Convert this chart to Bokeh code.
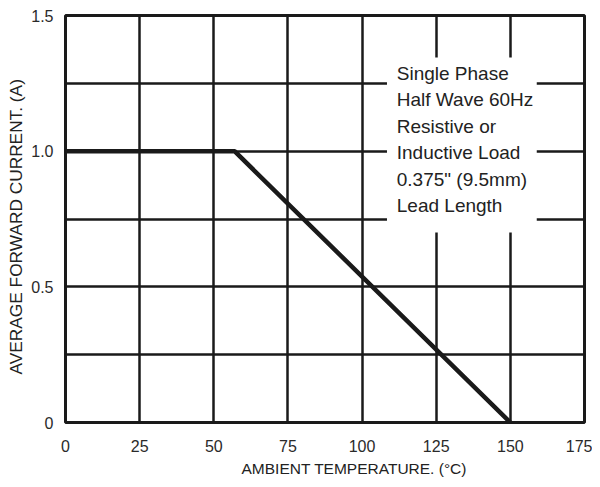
from bokeh.plotting import figure
from bokeh.models import Range1d, FixedTicker, Label, Title
from bokeh.embed import file_html
from bokeh.resources import INLINE

# ---- data ----
temp_c = [0, 57, 150]
current_a = [1.0, 1.0, 0.0]
x_ticks = [0, 25, 50, 75, 100, 125, 150, 175]
y_ticks = [0, 0.5, 1.0, 1.5]
y_tick_labels = ["0", "0.5", "1.0", "1.5"]
y_grid = [0, 0.25, 0.5, 0.75, 1.0, 1.25, 1.5]
note_lines = ["Single Phase", "Half Wave 60Hz", "Resistive or",
              "Inductive Load", "0.375\" (9.5mm)", "Lead Length"]
x_title = "AMBIENT TEMPERATURE. (°C)"
y_title = "AVERAGE FORWARD CURRENT. (A)"

FONT = "Liberation Sans"
INK = "#1a1a1a"

p = figure(width=592, height=479, output_backend="svg", toolbar_location=None,
           x_range=Range1d(0, 175), y_range=Range1d(0, 1.5),
           min_border_left=62, min_border_right=8, min_border_top=15,
           min_border_bottom=56)
p.background_fill_color = "white"
p.border_fill_color = "white"
p.outline_line_color = INK
p.outline_line_width = 3

# axes
p.xaxis.ticker = FixedTicker(ticks=x_ticks)
p.yaxis.ticker = FixedTicker(ticks=y_ticks)
p.yaxis.major_label_overrides = {t: s for t, s in zip(y_ticks, y_tick_labels)}
for ax in (p.xaxis, p.yaxis):
    ax.axis_line_color = None
    ax.major_tick_line_color = None
    ax.minor_tick_line_color = None
    ax.major_label_text_font = FONT
    ax.major_label_text_font_size = "16px"
    ax.major_label_text_color = "#2a2a2a"
p.xaxis.major_label_standoff = 11
p.yaxis.major_label_standoff = 6

# grid
p.xgrid.ticker = FixedTicker(ticks=x_ticks)
p.ygrid.ticker = FixedTicker(ticks=y_grid)
for g in (p.xgrid, p.ygrid):
    g.grid_line_color = INK
    g.grid_line_width = 2.5
    g.grid_line_alpha = 1.0

# white note box covering grid
p.quad(left=108.4, right=158.9, bottom=0.70, top=1.345,
       fill_color="white", line_color=None)

# derating curve
p.line(temp_c, current_a, line_color=INK, line_width=4.5)

# note text
for i, s in enumerate(note_lines):
    p.add_layout(Label(x=111.7, y=1.287 - i * 0.0974, text=s,
                       text_font=FONT, text_font_size="19px",
                       text_color="#222222", text_baseline="middle",
                       text_align="left"))

# axis titles
p.add_layout(Title(text=x_title, align="left", offset=176, standoff=6,
                   text_font=FONT, text_font_size="15.5px",
                   text_font_style="normal", text_color="#222222"), "below")
p.add_layout(Title(text=y_title, align="left", offset=48, standoff=6,
                   text_font=FONT, text_font_size="17.3px",
                   text_font_style="normal", text_color="#222222"), "left")

open("out.html", "w").write(file_html(p, INLINE))
